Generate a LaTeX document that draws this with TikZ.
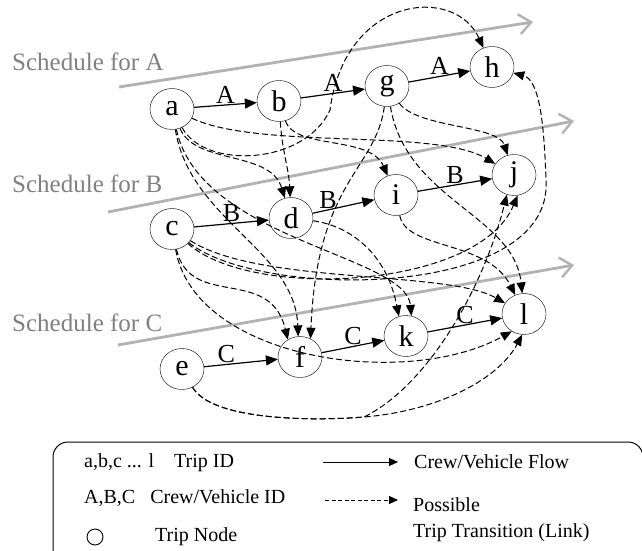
\documentclass[tikz,border=0pt]{standalone}
\usepackage{fontspec}
\setmainfont{Liberation Serif}
\usepackage{tikz}
\usetikzlibrary{arrows.meta, shapes.geometric}
\definecolor{schedText}{RGB}{128,128,128}
\definecolor{schedLine}{RGB}{178,178,178}

\begin{document}
\begin{tikzpicture}[x=1pt, y=-1pt,
	trip/.style={draw, ellipse, minimum width=44pt, minimum height=41pt, inner sep=0pt, font=\fontsize{30}{30}\selectfont},
	flow/.style={line width=1.2pt, -{Triangle[length=12pt, width=10pt]}},
	link/.style={line width=1pt, dash pattern=on 6pt off 3pt, -{Triangle[length=11pt, width=9pt]}},
	veh/.style={font=\fontsize{26}{26}\selectfont, inner sep=1pt},
	sched/.style={color=schedLine, line width=2.8pt, -{Straight Barb[length=12pt, width=20pt, line width=2.4pt]}},
	schedlabel/.style={color=schedText, font=\fontsize{25}{25}\selectfont, anchor=west, inner sep=0pt},
	legtext/.style={font=\fontsize{20}{20}\selectfont, anchor=west, inner sep=0pt}]
\useasboundingbox (0,0) rectangle (642,551);

% Draw schedules
\coordinate (sA0) at (119,87);  \coordinate (sA1) at (533,22);
\coordinate (sB0) at (108,212); \coordinate (sB1) at (574,121);
\coordinate (sC0) at (118,345); \coordinate (sC1) at (574,265);
\draw[sched] (sA0) -- (sA1);
\draw[sched] (sB0) -- (sB1);
\draw[sched] (sC0) -- (sC1);
\node[schedlabel] (labA) at (12,62) {Schedule for A};
\node[schedlabel] (labB) at (12,184) {Schedule for B};
\node[schedlabel] (labC) at (12,323) {Schedule for C};

% Draw trips
\node[trip] (a) at (172,109) {a};
\node[trip] (b) at (279,101) {b};
\node[trip] (g) at (387,86) {g};
\node[trip] (h) at (492,67) {h};
\node[trip] (c) at (172,229) {c};
\node[trip] (d) at (291,218) {d};
\node[trip] (i) at (396,195) {i};
\node[trip] (j) at (514,175) {j};
\node[trip] (e) at (182,369) {e};
\node[trip] (f) at (300,357) {f};
\node[trip] (k) at (406,336) {k};
\node[trip] (l) at (524,314) {l};

% Draw crew/vehicle flows
\draw[flow] (a) -- (b) node[veh, midway, above]{A};
\draw[flow] (b) -- (g) node[veh, midway, above]{A};
\draw[flow] (g) -- (h) node[veh, midway, above]{A};
\draw[flow] (c) -- (d) node[veh, midway, above]{B};
\draw[flow] (d) -- (i) node[veh, pos=0.25, above]{B};
\draw[flow] (i) -- (j) node[veh, midway, above]{B};
\draw[flow] (e) -- (f) node[veh, pos=0.3, above]{C};
\draw[flow] (f) -- (k) node[veh, midway, above]{C};
\draw[flow] (k) -- (l) node[veh, midway, above]{C};

% Draw possible links
\draw[link] (a) .. controls (205,170) and (305,165) .. (330,110) .. controls (345,-5) and (455,-15) .. (h);
\draw[link] (a) .. controls (260,150) and (435,128) .. (j);
\draw[link] (a) .. controls (195,165) and (270,150) .. (d);
\draw[link] (a) .. controls (190,220) and (295,250) .. (f.95);
\draw[link] (a) .. controls (200,240) and (406,255) .. (k.75);
\draw[link] (b) .. controls (282,150) and (289,170) .. (d);
\draw[link] (b) .. controls (295,150) and (370,135) .. (i);
\draw[link] (g) .. controls (417,128) and (498,125) .. (j);
\draw[link] (g) .. controls (376,170) and (317,180) .. (f.60);
\draw[link] (g) .. controls (406,200) and (514,215) .. (l.95);
\draw[link] (i) .. controls (406,250) and (488,240) .. (l.115);
\draw[link] (d) .. controls (346,225) and (386,250) .. (k.110);
\draw[link] (c) .. controls (190,310) and (270,265) .. (f.125);
\draw[link] (c) .. controls (195,360) and (406,390) .. (l.235);
\draw[link] (c) .. controls (250,300) and (478,290) .. (j.280);
\draw[link] (c) .. controls (260,300) and (554,300) .. (546,180) .. controls (544,120) and (539,80) .. (h);
\draw[link] (c) .. controls (260,285) and (447,270) .. (l);
\draw[link] (e) .. controls (212,421) and (315,421) .. (364,417) .. controls (427,386) and (483,290) .. (j.250);
\draw[link] (e) .. controls (212,421) and (315,421) .. (364,417) .. controls (437,411) and (498,380) .. (l.265);

% Draw legend
\draw[line width=1pt, rounded corners=15pt] (53,442) rectangle (643,600);
\node[legtext] (legid) at (84,463) {a,b,c ... l\ \ \ \ Trip ID};
\node[legtext] (legcrew) at (84,498) {A,B,C\ \ \ Crew/Vehicle ID};
\node[draw, circle, minimum size=16pt, inner sep=0pt, line width=0.9pt] (legnode) at (95,537) {};
\node[legtext] (legnodetxt) at (155,537) {Trip Node};
\coordinate (legf0) at (323,462); \coordinate (legf1) at (398,462);
\coordinate (legl0) at (325,500); \coordinate (legl1) at (398,500);
\draw[line width=1pt, -{Triangle[length=9pt, width=8pt]}] (legf0) -- (legf1);
\draw[line width=0.9pt, dash pattern=on 4pt off 2.5pt, -{Triangle[length=9pt, width=8pt]}] (legl0) -- (legl1);
\node[legtext] (legflow) at (414,462) {Crew/Vehicle Flow};
\node[legtext] (legposs) at (413,505) {Possible};
\node[legtext] (legtrans) at (413,533) {Trip Transition (Link)};
\end{tikzpicture}
\end{document}
